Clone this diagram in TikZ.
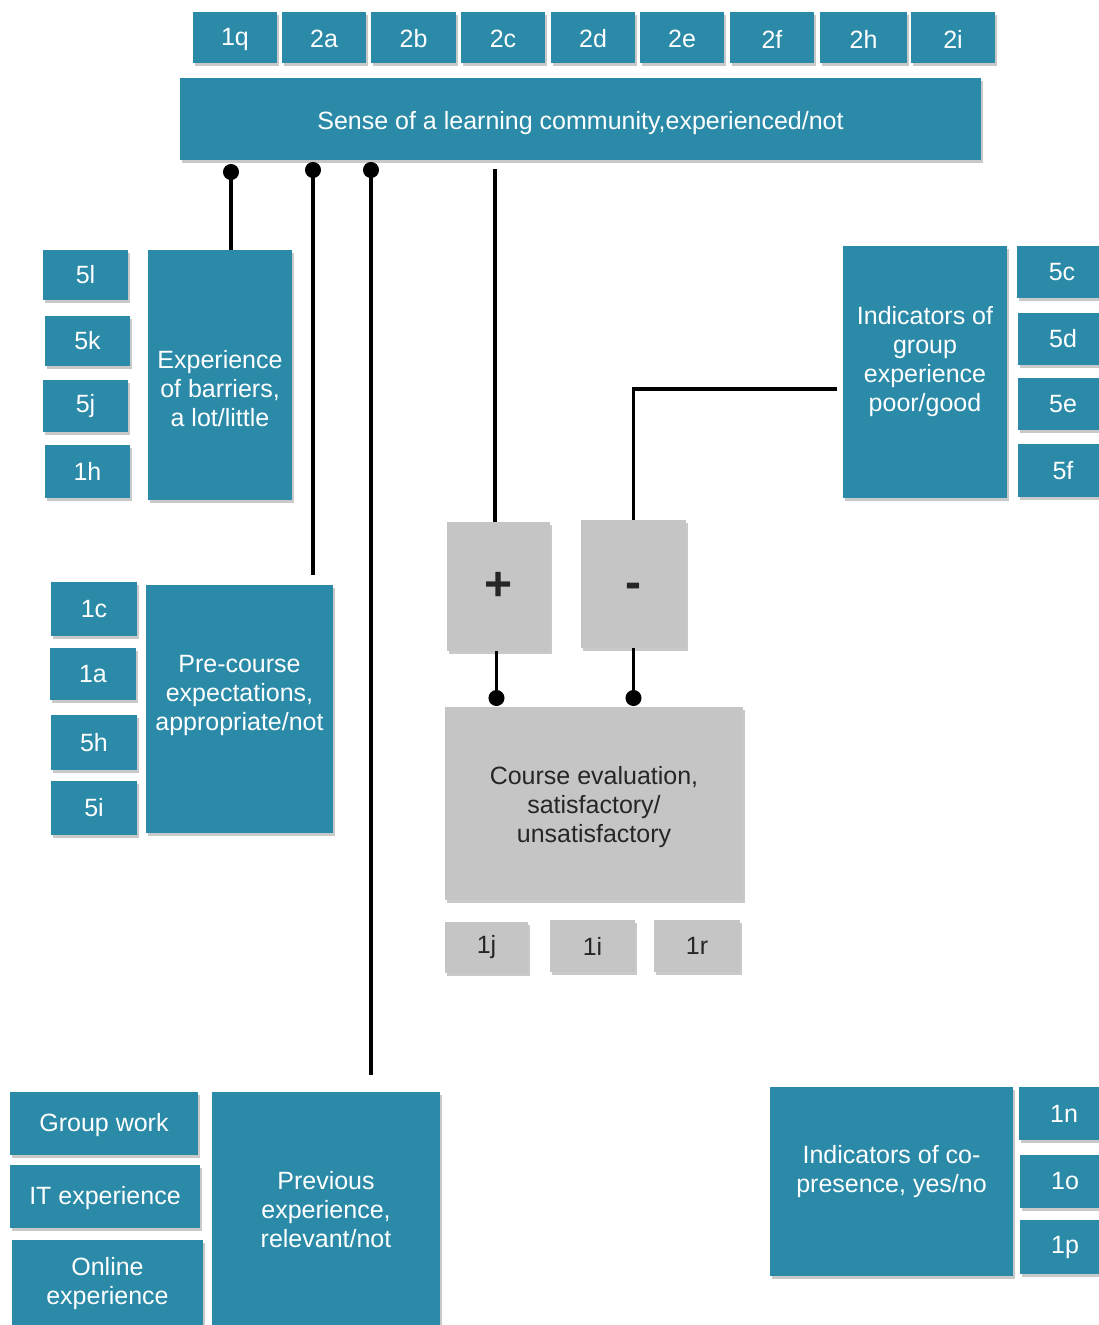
\documentclass[tikz,border=0pt]{standalone}
\usepackage{fontspec}
\setmainfont{Liberation Sans}
\usetikzlibrary{shadows,arrows.meta}
\definecolor{tealbox}{RGB}{42,138,168}
\definecolor{greybox}{RGB}{197,197,197}
\newcommand\mybox[7]{\node[#2, minimum width=#5pt, minimum height=#6pt] (#1) at (#3,#4) {#7};}
\newcommand\dropby[1]{\rule[-#1pt]{0pt}{#1pt}}
\newcommand\topby[1]{\rule{0pt}{#1pt}}
\begin{document}
\begin{tikzpicture}[x=1pt,y=-1pt,
  box/.style={rectangle, inner sep=0pt, outer sep=0pt, anchor=north west, align=center,
    font=\fontsize{25}{29}\selectfont,
    drop shadow={shadow xshift=1.5pt,shadow yshift=-2.5pt,opacity=0.3,fill=black!70}},
  tb/.style={box, fill=tealbox, text=white},
  gb/.style={box, fill=greybox, text=black!85},
  wire/.style={line width=3.6pt, black},
  dotstart/.style={wire, {Circle[length=16pt]}-},
  dotend/.style={wire, -{Circle[length=16pt]}}]
\useasboundingbox (0,0) rectangle (1099,1325);

% top row
\mybox{q1}{tb}{193}{12}{84}{51}{\topby{21}1q}
\mybox{a2}{tb}{282}{12}{84}{51}{\topby{21}2a}
\mybox{b2}{tb}{371}{12}{85}{51}{\topby{21}2b}
\mybox{c2}{tb}{461}{12}{84}{51}{\topby{21}2c}
\mybox{d2}{tb}{551}{12}{84}{51}{\topby{21}2d}
\mybox{e2}{tb}{640}{12}{84}{51}{\topby{21}2e}
\mybox{f2}{tb}{730}{12}{84}{51}{\topby{21}2f}
\mybox{h2}{tb}{820}{12}{87}{51}{\topby{21}2h}
\mybox{i2}{tb}{911}{12}{84}{51}{\topby{21}2i}

\mybox{main}{tb}{180}{78}{801}{82}{\topby{26}Sense of a learning community,experienced/not}

% barriers
\mybox{bar}{tb}{148}{250}{144}{250}{\topby{46}Experience\\of barriers,\\a lot/little}
\mybox{l5}{tb}{43}{250}{85}{50}{5l}
\mybox{k5}{tb}{45}{316}{85}{50}{5k}
\mybox{j5}{tb}{43}{380}{85}{52}{5j}
\mybox{h1}{tb}{45}{445}{85}{53}{1h}

% group experience
\mybox{grp}{tb}{843}{246}{164}{252}{Indicators of\\group\\experience\\poor/good\dropby{26}}
\mybox{c5}{tb}{1017}{246}{90}{52}{5c}
\mybox{d5}{tb}{1018}{313}{90}{52}{5d}
\mybox{e5}{tb}{1018}{378}{90}{52}{5e}
\mybox{f5}{tb}{1018}{444}{90}{53}{5f}

% plus / minus
\mybox{plus}{gb}{447}{522}{103}{129}{\fontsize{48}{48}\selectfont\bfseries\vphantom{+}+}
\mybox{minus}{gb}{581}{520}{105}{128}{\fontsize{48}{48}\selectfont\bfseries\vphantom{+}-}

% course evaluation
\mybox{eval}{gb}{445}{707}{298}{193}{\topby{26}Course evaluation,\\satisfactory/\\unsatisfactory}
\mybox{j1}{gb}{445}{922}{83}{51}{1j}
\mybox{i1}{gb}{550}{920}{85}{52}{1i}
\mybox{r1}{gb}{654}{920}{86}{52}{1r}

% pre-course
\mybox{pre}{tb}{146}{585}{187}{248}{Pre-course\\expectations,\\appropriate/not\dropby{32}}
\mybox{c1}{tb}{51}{582}{86}{54}{1c}
\mybox{a1}{tb}{50}{648}{86}{52}{1a}
\mybox{h5}{tb}{51}{715}{86}{55}{5h}
\mybox{i5}{tb}{51}{781}{86}{54}{5i}

% previous experience
\mybox{prev}{tb}{212}{1092}{228}{240}{Previous\\experience,\\relevant/not\dropby{6}}
\mybox{gw}{tb}{10}{1092}{188}{63}{\topby{21}Group work}
\mybox{it}{tb}{10}{1165}{190}{63}{\topby{21}IT experience}
\mybox{onl}{tb}{12}{1240}{191}{90}{Online\\experience\dropby{8}}

% co-presence
\mybox{cop}{tb}{770}{1087}{243}{189}{Indicators of co-\\presence, yes/no\dropby{26}}
\mybox{n1}{tb}{1019}{1087}{90}{53}{1n}
\mybox{o1}{tb}{1020}{1155}{90}{53}{1o}
\mybox{p1}{tb}{1020}{1220}{90}{54}{1p}

% connectors
\draw[dotstart, shorten <=4pt] ([xshift=51pt]main.south west) -- ([xshift=51pt]main.south west |- bar.north);
\draw[dotstart, shorten <=2pt, shorten >=10pt] ([xshift=133pt]main.south west) -- ([xshift=133pt]main.south west |- pre.north);
\draw[dotstart, shorten <=2pt, shorten >=17pt] ([xshift=191pt]main.south west) -- ([xshift=191pt]main.south west |- prev.north);
\draw[wire, shorten <=9pt] ([xshift=315pt]main.south west) -- ([xshift=315pt]main.south west |- plus.north);
\draw[wire, shorten <=6pt] ([yshift=-17pt]grp.west) -| (minus.north);
\draw[dotend, shorten >=1pt] ([xshift=-2pt]plus.south) -- ([xshift=-2pt]plus.south |- eval.north);
\draw[dotend, shorten >=1pt] (minus.south) -- (minus.south |- eval.north);
\end{tikzpicture}
\end{document}
